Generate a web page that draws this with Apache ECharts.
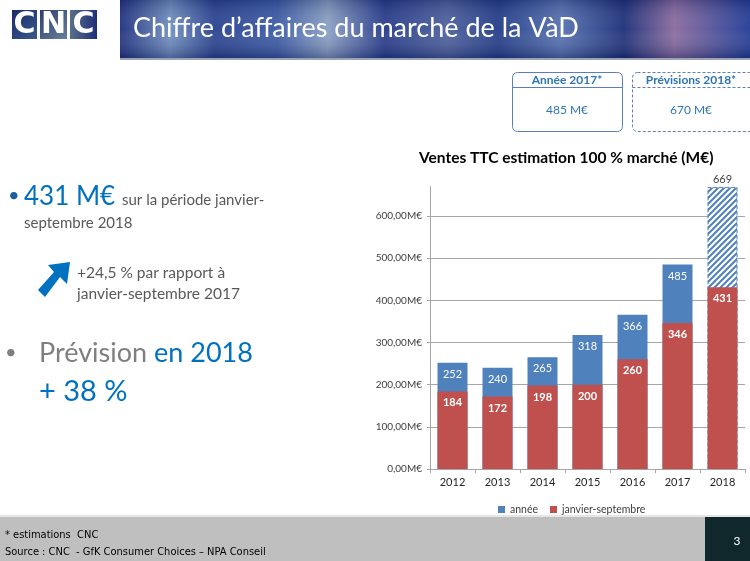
<!DOCTYPE html>
<html><head><meta charset="utf-8">
<script src="https://cdn.jsdelivr.net/npm/echarts@6/dist/echarts.min.js"></script>
<style>html,body{margin:0;padding:0;background:#fff}#c{width:750px;height:561px}</style>
</head><body><div id="c"></div>
<script>
var categories = ['2012','2013','2014','2015','2016','2017','2018'];
var anneeValues = [252, 240, 265, 318, 366, 485, 669];
var janvSeptValues = [184, 172, 198, 200, 260, 346, 431];
var yTickLabels = ['0,00M€','100,00M€','200,00M€','300,00M€','400,00M€','500,00M€','600,00M€'];

var FONT = 'Lato';
var BLUE = '#4F81BD', RED = '#C0504D';

// hatch pattern
var pc = document.createElement('canvas');
pc.width = 6; pc.height = 6;
var px = pc.getContext('2d');
px.fillStyle = '#fff'; px.fillRect(0,0,6,6);
px.strokeStyle = BLUE; px.lineWidth = 2;
px.beginPath();
px.moveTo(-1,7); px.lineTo(7,-1);
px.moveTo(-4,4); px.lineTo(4,-4);
px.moveTo(2,10); px.lineTo(10,2);
px.stroke();

var anneeData = anneeValues.map(function(v,i){
  if (i === anneeValues.length-1) {
    return {value:v, itemStyle:{color:{image:pc, repeat:'repeat'}, borderColor:BLUE, borderType:'dashed', borderWidth:1},
      label:{position:'top', color:'#404040', fontWeight:'normal', distance:2}};
  }
  return v;
});

var chart = echarts.init(document.getElementById('c'));
chart.setOption({
  animation:false,
  textStyle:{fontFamily:FONT},
  title:{text:'Ventes TTC estimation 100 % marché (M€)', left:414, top:145, padding:5,
    textStyle:{fontFamily:FONT, fontSize:15.5, fontWeight:'bold', color:'#000'}},
  legend:{left:493, top:499, itemWidth:7, itemHeight:7, itemGap:12,
    textStyle:{fontFamily:FONT, fontSize:10.5, color:'#404040'},
    data:[{name:'année', icon:'rect'},{name:'janvier-septembre', icon:'rect'}]},
  grid:{left:430, right:5, top:186.5, bottom:92, containLabel:false},
  xAxis:{type:'category', data:categories,
    axisLine:{lineStyle:{color:'#A6A6A6'}},
    axisTick:{show:true, length:4, lineStyle:{color:'#A6A6A6'}},
    axisLabel:{fontFamily:FONT, fontSize:11, color:'#262626', margin:8}},
  yAxis:{type:'value', min:0, max:670, interval:100,
    axisLine:{show:true, lineStyle:{color:'#A6A6A6'}},
    axisTick:{show:true, length:3, lineStyle:{color:'#A6A6A6'}},
    splitLine:{show:true, showMaxLine:false, lineStyle:{color:'#A6A6A6'}},
    axisLabel:{fontFamily:FONT, fontSize:10, color:'#404040', margin:8, showMaxLabel:false,
      formatter:function(v){ var i = Math.round(v/100); return (v%100===0 && yTickLabels[i]) ? yTickLabels[i] : ''; }}},
  series:[
    {name:'année', type:'bar', data:anneeData, barWidth:30, barGap:'-100%', z:2,
     itemStyle:{color:BLUE},
     label:{show:true, position:'insideTop', distance:6, color:'#fff', fontSize:11, fontFamily:FONT}},
    {name:'janvier-septembre', type:'bar', data:janvSeptValues, barWidth:30, z:3,
     itemStyle:{color:RED},
     label:{show:true, position:'insideTop', distance:6, color:'#fff', fontSize:11, fontWeight:'bold', fontFamily:FONT}}
  ],
  graphic:[
    // header band
    {type:'rect', shape:{x:120,y:0,width:630,height:58}, z:0,
     style:{fill:new echarts.graphic.LinearGradient(0,0,1,0,[
       {offset:0,color:'#1d2f7e'},{offset:0.08,color:'#6f8fc0'},{offset:0.15,color:'#27408f'},
       {offset:0.25,color:'#3a5aa6'},{offset:0.33,color:'#8aa0c4'},{offset:0.42,color:'#24398a'},
       {offset:0.52,color:'#4b5f9c'},{offset:0.6,color:'#203a88'},{offset:0.7,color:'#5571b0'},
       {offset:0.8,color:'#1a2d78'},{offset:0.88,color:'#8a6a9e'},{offset:1,color:'#1f3a96'}])}},
    {type:'rect', shape:{x:120,y:0,width:630,height:58}, z:0,
     style:{fill:new echarts.graphic.LinearGradient(0,0,0,1,[
       {offset:0,color:'rgba(10,20,70,0.25)'},{offset:0.5,color:'rgba(255,255,255,0.05)'},{offset:1,color:'rgba(10,20,70,0.35)'}])}},
    {type:'rect', shape:{x:120,y:58,width:630,height:2}, style:{fill:'#9aa3b5'}},
    {type:'text', x:133, y:28, style:{text:'Chiffre d’affaires du marché de la VàD', fill:'#fff',
      font:'27px Lato', textVerticalAlign:'middle'}},
    // logo
    {type:'rect', shape:{x:12,y:10,width:25,height:29}, style:{fill:new echarts.graphic.LinearGradient(0,0,1,1,[{offset:0,color:'#1b2a6b'},{offset:1,color:'#3a5a8a'}])}},
    {type:'rect', shape:{x:40,y:10,width:27,height:29}, style:{fill:new echarts.graphic.LinearGradient(0,0,1,1,[{offset:0,color:'#2b3f6e'},{offset:1,color:'#6a7f9a'}])}},
    {type:'rect', shape:{x:70,y:10,width:27,height:29}, style:{fill:new echarts.graphic.LinearGradient(0,0,1,0,[{offset:0,color:'#5a6f8a'},{offset:1,color:'#1f2f78'}])}},
    {type:'text', x:24.5, y:25, style:{text:'C', fill:'#fff', font:'bold 30px "DejaVu Sans"', textAlign:'center', textVerticalAlign:'middle'}},
    {type:'text', x:53.5, y:25, style:{text:'N', fill:'#fff', font:'bold 30px "DejaVu Sans"', textAlign:'center', textVerticalAlign:'middle'}},
    {type:'text', x:83.5, y:25, style:{text:'C', fill:'#fff', font:'bold 30px "DejaVu Sans"', textAlign:'center', textVerticalAlign:'middle'}},
    // boxes
    {type:'rect', shape:{x:512.5,y:72.5,width:110,height:59,r:5}, style:{fill:'#fff', stroke:'#5b7fb8', lineWidth:1}},
    {type:'line', shape:{x1:512.5,y1:87.5,x2:622.5,y2:87.5}, style:{stroke:'#5b7fb8', lineWidth:1}},
    {type:'text', x:567, y:80, style:{text:'Année 2017*', fill:'#2E75B6', font:'bold 12px Lato', textAlign:'center', textVerticalAlign:'middle'}},
    {type:'text', x:567, y:110, style:{text:'485 M€', fill:'#2E75B6', font:'12px Lato', textAlign:'center', textVerticalAlign:'middle'}},
    {type:'rect', shape:{x:632.5,y:72.5,width:122,height:59,r:5}, style:{fill:'#fff', stroke:'#5b7fb8', lineWidth:1, lineDash:[3,2]}},
    {type:'line', shape:{x1:632.5,y1:87.5,x2:750,y2:87.5}, style:{stroke:'#5b7fb8', lineWidth:1, lineDash:[3,2]}},
    {type:'text', x:691, y:80, style:{text:'Prévisions 2018*', fill:'#2E75B6', font:'bold 12px Lato', textAlign:'center', textVerticalAlign:'middle'}},
    {type:'text', x:691, y:110, style:{text:'670 M€', fill:'#2E75B6', font:'12px Lato', textAlign:'center', textVerticalAlign:'middle'}},
    // left texts
    {type:'text', x:8, y:196, style:{text:'•', fill:'#1F5E9E', font:'20px Lato', textVerticalAlign:'middle'}},
    {type:'text', x:24, y:197, style:{text:'431 M€', fill:'#0070C0', font:'26px Lato', textVerticalAlign:'middle'}},
    {type:'text', x:122, y:200, style:{text:'sur la période janvier-', fill:'#595959', font:'15px Lato', textVerticalAlign:'middle'}},
    {type:'text', x:24, y:223, style:{text:'septembre 2018', fill:'#595959', font:'15px Lato', textVerticalAlign:'middle'}},
    {type:'polygon', shape:{points:[[70,262],[67,284],[60,277],[45,297],[38,290],[54,272],[48,265]]}, style:{fill:'#0070C0'}},
    {type:'text', x:77, y:273, style:{text:'+24,5 % par rapport à', fill:'#595959', font:'15.5px Lato', textVerticalAlign:'middle'}},
    {type:'text', x:77, y:294, style:{text:'janvier-septembre 2017', fill:'#595959', font:'15.5px Lato', textVerticalAlign:'middle'}},
    {type:'text', x:5, y:353, style:{text:'•', fill:'#7F7F7F', font:'20px Lato', textVerticalAlign:'middle'}},
    {type:'text', x:39, y:353, style:{rich:{g:{fill:'#7F7F7F', font:'27px Lato'}, b:{fill:'#0070C0', font:'27px Lato'}}, text:'{g|Prévision }{b|en 2018}', textVerticalAlign:'middle'}},
    {type:'text', x:39, y:392, style:{text:'+ 38 %', fill:'#0070C0', font:'29px Lato', textVerticalAlign:'middle'}},
    // footer
    {type:'rect', shape:{x:0,y:517,width:705,height:44}, style:{fill:'#BFBFBF'}},
    {type:'rect', shape:{x:705,y:517,width:45,height:44}, style:{fill:'#10272B'}},
    {type:'rect', shape:{x:0,y:515,width:750,height:2}, style:{fill:'#e6e6e6'}},
    {type:'text', x:737, y:541, style:{text:'3', fill:'#fff', font:'12px Lato', textAlign:'center', textVerticalAlign:'middle'}},
    {type:'text', x:5, y:535, style:{text:'* estimations  CNC', fill:'#000', font:'11px "Liberation Sans Narrow", "DejaVu Sans Condensed"', textVerticalAlign:'middle'}},
    {type:'text', x:5, y:552, style:{text:'Source : CNC  - GfK Consumer Choices – NPA Conseil', fill:'#000', font:'11px "Liberation Sans Narrow", "DejaVu Sans Condensed"', textVerticalAlign:'middle'}}
  ]
});
</script></body></html>
